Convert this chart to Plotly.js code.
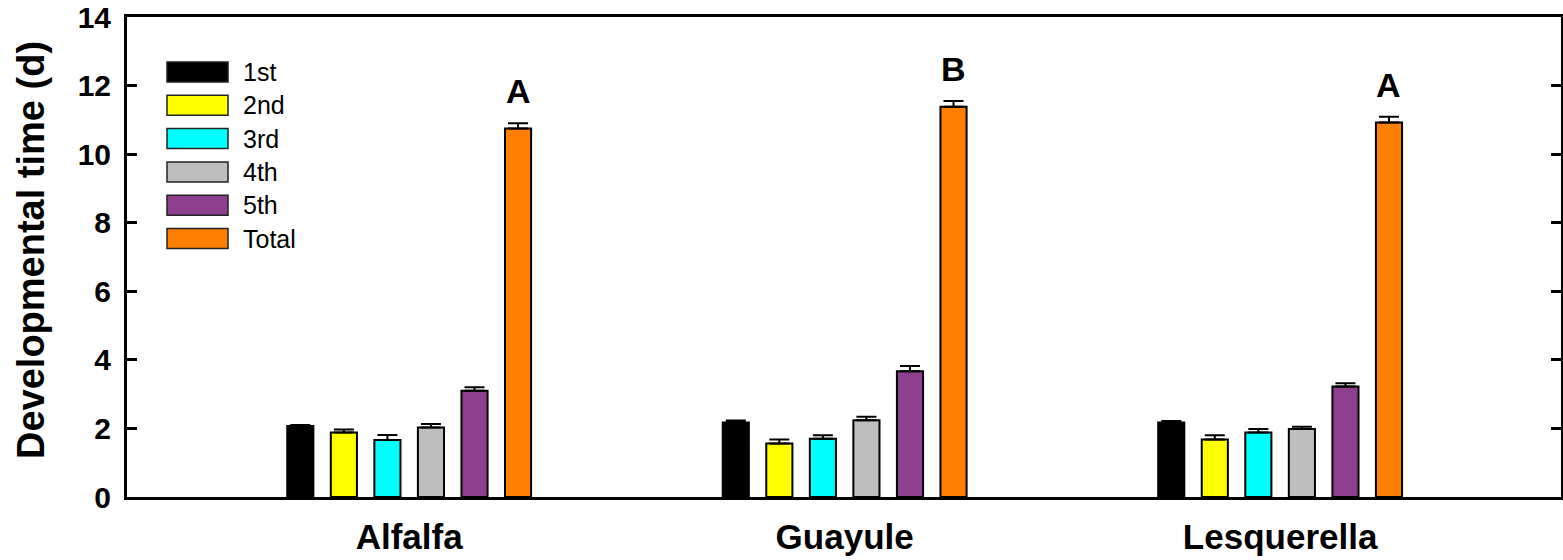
<!DOCTYPE html>
<html>
<head>
<meta charset="utf-8">
<script src="https://cdn.plot.ly/plotly-3.0.1.min.js"></script>
<style>html,body{margin:0;padding:0;background:#fff;}#chart{width:1563px;height:560px;}</style>
</head>
<body>
<div id="chart"></div>
<script>
// ---- data ----
const hosts = ["Alfalfa", "Guayule", "Lesquerella"];
const stages = ["1st", "2nd", "3rd", "4th", "5th", "Total"];
const colors = ["#000000", "#FFFF00", "#00FFFF", "#BEBEBE", "#8E3F8E", "#FF8000"];
const stage1st   = [2.07, 2.17, 2.17];
const stage2nd   = [1.88, 1.56, 1.68];
const stage3rd   = [1.66, 1.70, 1.88];
const stage4th   = [2.03, 2.24, 1.98];
const stage5th   = [3.10, 3.67, 3.22];
const stageTotal = [10.75, 11.38, 10.92];
const err1st   = [0.03, 0.06, 0.05];
const err2nd   = [0.09, 0.12, 0.12];
const err3rd   = [0.15, 0.10, 0.10];
const err4th   = [0.10, 0.10, 0.07];
const err5th   = [0.10, 0.15, 0.10];
const errTotal = [0.15, 0.17, 0.17];
const letters = ["A", "B", "A"];
const yTicks = [0, 2, 4, 6, 8, 10, 12, 14];
const yTitle = "Developmental time (d)";

const values = [stage1st, stage2nd, stage3rd, stage4th, stage5th, stageTotal];
const errors = [err1st, err2nd, err3rd, err4th, err5th, errTotal];

const FONT = "Arial, 'Liberation Sans', Helvetica, sans-serif";

const traces = stages.map((s, i) => ({
  type: "bar",
  name: s,
  x: hosts,
  y: values[i],
  marker: {color: colors[i], line: {color: "#000", width: 2}},
  error_y: {type: "data", symmetric: false, array: errors[i], arrayminus: hosts.map(() => 0),
            color: "#000", thickness: 2, width: 10, visible: true},
  showlegend: false,
  hoverinfo: "x+y+name"
}));

// geometry for legend (paper coords)
const plotL = 127, plotR = 1561, plotT = 17, plotB = 497;
const pw = plotR - plotL, ph = plotB - plotT;
const px = v => (v - plotL) / pw;
const py = v => (plotB - v) / ph;

const shapes = [];
const annotations = [];
stages.forEach((s, i) => {
  const cy = 72 + i * 33.3;
  shapes.push({type: "rect", xref: "paper", yref: "paper",
    x0: px(167), x1: px(228), y0: py(cy + 10), y1: py(cy - 10),
    fillcolor: colors[i], line: {color: "#222", width: 1.5}});
  annotations.push({xref: "paper", yref: "paper", x: px(241), y: py(cy),
    xanchor: "left", yanchor: "middle", text: s, showarrow: false,
    font: {family: FONT, size: 25, color: "#000"}});
});
hosts.forEach((h, i) => {
  annotations.push({xref: "x", yref: "y", x: i + 0.25, y: stageTotal[i] + errTotal[i],
    xanchor: "center", yanchor: "bottom", yshift: 11, text: "<b>" + letters[i] + "</b>",
    showarrow: false, font: {family: FONT, size: 34, color: "#000"}});
});
// y-axis title
annotations.push({xref: "paper", yref: "paper", x: px(31), y: py(250),
  xanchor: "center", yanchor: "middle", textangle: -90, text: "<b>" + yTitle + "</b>",
  showarrow: false, font: {family: FONT, size: 38, color: "#000"}});

const layout = {
  width: 1563, height: 560,
  margin: {l: plotL, r: 1563 - plotR, t: plotT, b: 560 - plotB, pad: 0},
  paper_bgcolor: "#fff", plot_bgcolor: "#fff",
  barmode: "group", bargap: 0.4, bargroupgap: 0.4,
  font: {family: FONT, color: "#000"},
  xaxis: {
    type: "category", range: [-0.648, 2.645], showline: true, linecolor: "#000", linewidth: 3,
    mirror: true, ticks: "", showgrid: false, zeroline: false,
    tickfont: {family: FONT, size: 35, color: "#000", weight: "bold"},
    ticklabelstandoff: 7
  },
  yaxis: {
    range: [0, 14], tickvals: yTicks, ticktext: yTicks.map(String),
    showline: true, linecolor: "#000", linewidth: 3, mirror: "ticks",
    ticks: "inside", ticklen: 10, tickwidth: 3, tickcolor: "#000",
    showgrid: false, zeroline: false,
    tickfont: {family: FONT, size: 30, color: "#000", weight: "bold"},
    ticklabelstandoff: 7
  },
  shapes: shapes,
  annotations: annotations
};

Plotly.newPlot("chart", traces, layout, {displayModeBar: false, staticPlot: true});
</script>
</body>
</html>
